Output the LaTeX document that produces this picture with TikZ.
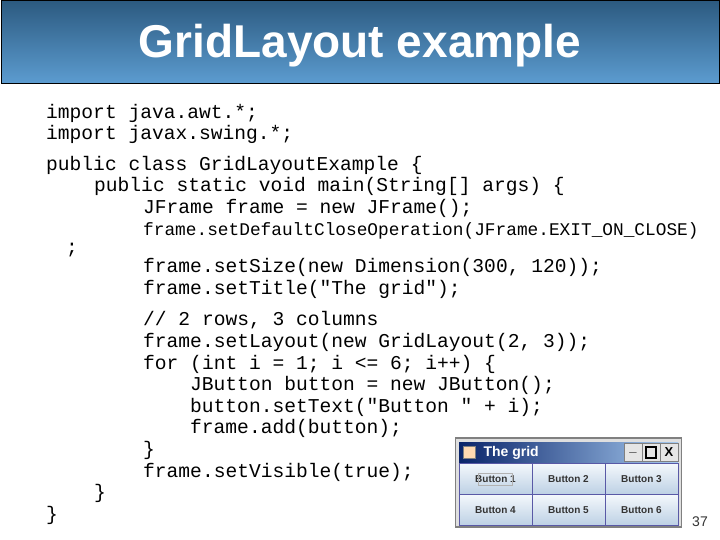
\documentclass[tikz,border=0pt]{standalone}
\usepackage{fontspec}
\setmainfont{Liberation Sans}
\newfontfamily\codefont{Liberation Mono}
\usetikzlibrary{positioning}
\definecolor{topblue}{HTML}{2C5A80}
\definecolor{botblue}{HTML}{5C9CD0}
\definecolor{wintop}{HTML}{0A246A}
\definecolor{winbot}{HTML}{A6CAF0}
\definecolor{btntop}{HTML}{F4F8FC}
\definecolor{btnbot}{HTML}{BCD0E4}
\tikzset{
 code/.style={anchor=base west,inner sep=0pt,font=\codefont\fontsize{19.6}{20}\selectfont},
 codesm/.style={anchor=base west,inner sep=0pt,font=\codefont\fontsize{17.8}{20}\selectfont},
 btn/.style={draw=gray!70!blue,top color=btntop,bottom color=btnbot,font=\fontsize{10}{12}\selectfont\bfseries,text=black!80,inner sep=0pt},
 wbtn/.style={draw=gray,fill=gray!20,minimum width=18,minimum height=18,inner sep=0pt,font=\fontsize{13}{13}\selectfont\bfseries},
}
\begin{document}
\begin{tikzpicture}[x=1pt,y=-1pt]
\useasboundingbox (0,0) rectangle (720,540);
\fill[white] (0,0) rectangle (720,540);
\node[draw=black,line width=1pt,top color=topblue,bottom color=botblue,minimum width=718,minimum height=83,inner sep=0pt] (bar) at (360,42) {};
\node[text=white,font=\fontsize{46}{48}\selectfont\bfseries] (title) at (360,46) {GridLayout example};
\node[code] (l1) at (46,119) {import java.awt.*;};
\node[code] (l2) at (46,140) {import javax.swing.*;};
\node[code] (l3) at (46,171) {public class GridLayoutExample \{};
\node[code] (l4) at (94,192) {public static void main(String[] args) \{};
\node[code] (l5) at (143,214) {JFrame frame = new JFrame();};
\node[codesm] (l6) at (143,236) {frame.setDefaultCloseOperation(JFrame.EXIT\_ON\_CLOSE)};
\node[code] (l7) at (66,253) {;};
\node[code] (l8) at (143,272) {frame.setSize(new Dimension(300, 120));};
\node[code] (l9) at (143,294) {frame.setTitle("The grid");};
\node[code] (l10) at (143,325) {// 2 rows, 3 columns};
\node[code] (l11) at (143,347) {frame.setLayout(new GridLayout(2, 3));};
\node[code] (l12) at (143,369) {for (int i = 1; i <= 6; i++) \{};
\node[code] (l13) at (190,390) {JButton button = new JButton();};
\node[code] (l14) at (190,412) {button.setText("Button " + i);};
\node[code] (l15) at (190,433) {frame.add(button);};
\node[code] (l16) at (143,455) {\}};
\node[code] (l17) at (143,477) {frame.setVisible(true);};
\node[code] (l18) at (94,498) {\}};
\node[code] (l19) at (46,520) {\}};
% window
\node[draw=gray,fill=gray!25,line width=1.5pt,minimum width=226,minimum height=89,inner sep=0pt] (win) at (568.5,482.5) {};
\node[left color=wintop,right color=winbot,minimum width=219,minimum height=21,inner sep=0pt] (wt) at (568.5,452.5) {};
\node[anchor=west,text=white,font=\fontsize{14}{16}\selectfont\bfseries] (wtt) at (480,452.5) {The grid};
\node[draw=gray,fill=orange!30,minimum width=12,minimum height=12,inner sep=0pt] (icon) at (469,452.5) {};
\node[wbtn] (b1) at (633,452.5) {\_};
\node[wbtn] (b2) at (651,452.5) {};
\draw[line width=1.3pt] (646,458) rectangle (656,447);
\node[wbtn] (b3) at (669,452.5) {X};
\node[btn,minimum width=73,minimum height=31] (g1) at (495.5,479) {Button 1};
\node[btn,minimum width=73,minimum height=31] (g2) at (568.5,479) {Button 2};
\node[btn,minimum width=73,minimum height=31] (g3) at (641.5,479) {Button 3};
\node[btn,minimum width=73,minimum height=31] (g4) at (495.5,510) {Button 4};
\node[btn,minimum width=73,minimum height=31] (g5) at (568.5,510) {Button 5};
\node[btn,minimum width=73,minimum height=31] (g6) at (641.5,510) {Button 6};
\node[draw=gray!60,minimum width=34,minimum height=12,inner sep=0pt] (focus) at (g1) {};
\node[font=\fontsize{14}{14}\selectfont,text=black!80] (pg) at (700,522) {37};
\end{tikzpicture}
\end{document}
